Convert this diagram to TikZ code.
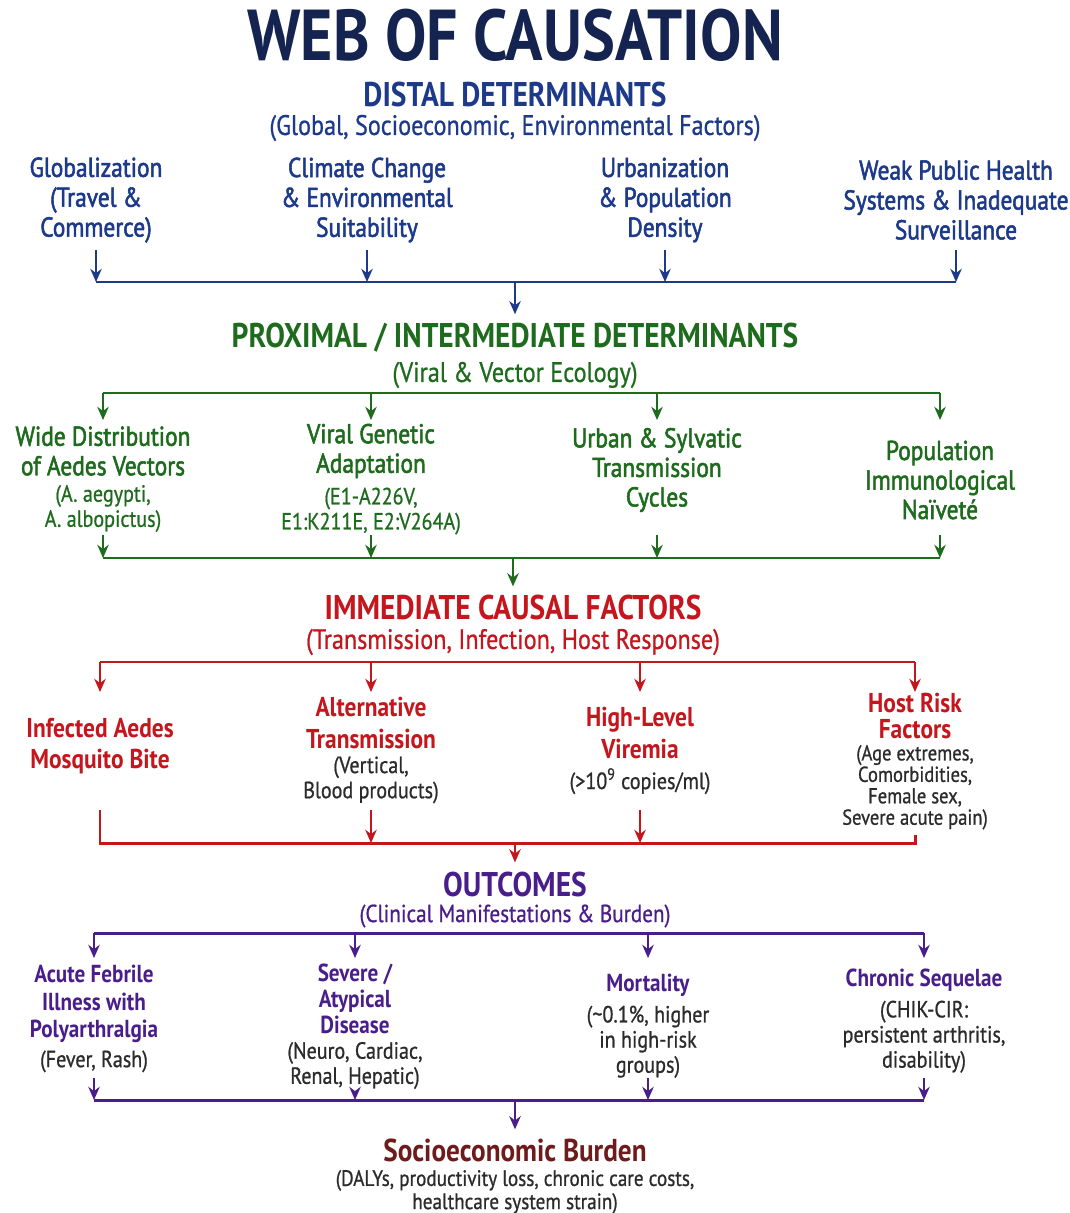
\documentclass[tikz,border=0pt]{standalone}
\usepackage{fontspec}
\setmainfont{PT Sans}[FakeStretch=0.86]
\newfontfamily\semib{PT Sans}[FakeStretch=0.86,FakeBold=2]
\newfontfamily\medi{PT Sans}[FakeStretch=0.86,FakeBold=0.8]
\usetikzlibrary{arrows.meta,positioning}
\definecolor{Navy}{HTML}{14234F}
\definecolor{Cobalt}{HTML}{1D3A8A}
\definecolor{Forest}{HTML}{1E6B1E}
\definecolor{Crimson}{HTML}{C4161C}
\definecolor{Violet}{HTML}{4A1E8A}
\definecolor{Maroon}{HTML}{6E1B1B}
\definecolor{Ink}{HTML}{2B2B2B}

\begin{document}
\begin{tikzpicture}[
        x=0.02cm, y=-0.02cm,
        every node/.style={inner sep=0pt, align=center},
        maintitle/.style={font=\fontsize{41}{44}\selectfont\bfseries, text=Navy},
        tier/.style={font=\fontsize{19.5}{22}\selectfont\bfseries},
        tiersub/.style={font=\fontsize{16}{18}\selectfont\medi},
        factor/.style={font=\fontsize{15.5}{17}\selectfont\semib},
        factorhead/.style={font=\fontsize{15.5}{16.8}\selectfont\semib},
        strong/.style={font=\fontsize{15.5}{18}\selectfont\bfseries},
        detail/.style={font=\fontsize{13.3}{14.3}\selectfont\medi},
        arrow/.style={-{Stealth[length=7.5pt,width=6.5pt]}, line width=1.3pt},
        bus/.style={line width=1.7pt}
    ]
        \useasboundingbox (0,0) rectangle (1070,1213);

        \node[maintitle] (title) at (515,35) {WEB OF CAUSATION};

        % distal level
        \node[tier, text=Cobalt] (distal) at (515,95) {DISTAL DETERMINANTS};
        \node[tiersub, text=Cobalt] (distal-sub) at (515,128) {(Global, Socioeconomic, Environmental Factors)};
        \node[factor, text=Cobalt] (d1) at (96,200) {Globalization\\(Travel \&\\Commerce)};
        \node[factor, text=Cobalt] (d2) at (367,200) {Climate Change\\\& Environmental\\Suitability};
        \node[factor, text=Cobalt] (d3) at (665,200) {Urbanization\\\& Population\\Density};
        \node[factor, text=Cobalt] (d4) at (956,200) {Weak Public Health\\Systems \& Inadequate\\Surveillance};

        % proximal level
        \node[tier, text=Forest] (prox) at (515,338) {PROXIMAL / INTERMEDIATE DETERMINANTS};
        \node[tiersub, text=Forest] (prox-sub) at (515,375) {(Viral \& Vector Ecology)};
        \node[factorhead, text=Forest] (g1) at (103,451) {Wide Distribution\\of Aedes Vectors};
        \node[detail, text=Forest, below=5pt of g1] (g1d) {(A. aegypti,\\A. albopictus)};
        \node[factorhead, text=Forest] (g2) at (371,451) {Viral Genetic\\Adaptation};
        \node[detail, text=Forest, below=5pt of g2] (g2d) {(E1-A226V,\\E1:K211E, E2:V264A)};
        \node[factorhead, text=Forest] (g3) at (657,470) {Urban \& Sylvatic\\Transmission\\Cycles};
        \node[factorhead, text=Forest] (g4) at (940,480) {Population\\Immunological\\Naïveté};

        % immediate causes
        \node[tier, text=Crimson] (imm) at (513,608) {IMMEDIATE CAUSAL FACTORS};
        \node[tiersub, text=Crimson] (imm-sub) at (513,642) {(Transmission, Infection, Host Response)};
        \node[strong, text=Crimson] (r1) at (100,746) {Infected Aedes\\Mosquito Bite};
        \node[strong, text=Crimson] (r2) at (371,723) {Alternative\\Transmission};
        \node[detail, text=Ink, below=4pt of r2] (r2d) {(Vertical,\\Blood products)};
        \node[strong, text=Crimson] (r3) at (640,733) {High-Level\\Viremia};
        \node[detail, text=Ink, below=5pt of r3] (r3d) {(>10\textsuperscript{9} copies/ml)};
        \node[strong, text=Crimson, font=\fontsize{15.5}{15}\selectfont\bfseries] (r4) at (915,716) {Host Risk\\Factors};
        \node[detail, text=Ink, below=3pt of r4, font=\fontsize{12.3}{12.2}\selectfont\medi] (r4d) {(Age extremes,\\Comorbidities,\\Female sex,\\Severe acute pain)};

        % outcomes
        \node[tier, text=Violet] (outc) at (515,884) {OUTCOMES};
        \node[tiersub, text=Violet, font=\fontsize{14}{16}\selectfont\medi] (outc-sub) at (515,916) {(Clinical Manifestations \& Burden)};
        \node[strong, text=Violet, font=\fontsize{14}{15.6}\selectfont\bfseries] (o1) at (94,1004) {Acute Febrile\\Illness with\\Polyarthralgia};
        \node[detail, text=Ink, below=4pt of o1] (o1d) {(Fever, Rash)};
        \node[strong, text=Violet, font=\fontsize{14}{15}\selectfont\bfseries] (o2) at (355,999) {Severe /\\Atypical\\Disease};
        \node[detail, text=Ink, below=4pt of o2] (o2d) {(Neuro, Cardiac,\\Renal, Hepatic)};
        \node[strong, text=Violet, font=\fontsize{14}{15}\selectfont\bfseries] (o3) at (648,985) {Mortality};
        \node[detail, text=Ink, below=5pt of o3] (o3d) {(\textasciitilde0.1\%, higher\\in high-risk\\groups)};
        \node[strong, text=Violet, font=\fontsize{14}{15}\selectfont\bfseries] (o4) at (924,980) {Chronic Sequelae};
        \node[detail, text=Ink, below=5pt of o4] (o4d) {(CHIK-CIR:\\persistent arthritis,\\disability)};

        \node[tier, text=Maroon, font=\fontsize{18}{20}\selectfont\bfseries] (burden) at (515,1150) {Socioeconomic Burden};
        \node[detail, text=Ink, font=\fontsize{12.7}{13.2}\selectfont\medi] (burden-sub) at (515,1192) {(DALYs, productivity loss, chronic care costs,\\healthcare system strain)};

        % bus heights
        \coordinate (d-out) at (0,250);
        \coordinate (d-bus) at (0,282);
        \coordinate (d-mid) at (515,282);
        \coordinate (g-top) at (0,393);
        \coordinate (g-in) at (0,420);
        \coordinate (g-out) at (0,535);
        \coordinate (g-bot) at (0,558);
        \coordinate (g-mid) at (513,558);
        \coordinate (r-top) at (0,662);
        \coordinate (r-in) at (0,692);
        \coordinate (r-out) at (0,810);
        \coordinate (r-bot) at (0,843);
        \coordinate (r-mid) at (515,843);
        \coordinate (o-top) at (0,933);
        \coordinate (o-in) at (0,958);
        \coordinate (o-out) at (0,1078);
        \coordinate (o-bot) at (0,1100);
        \coordinate (o-mid) at (515,1100);

        % distal -> proximal
        \draw[bus, Cobalt] (d1 |- d-bus) -- (d4 |- d-bus);
        \draw[arrow, Cobalt] (d1 |- d-out) -- (d1 |- d-bus);
        \draw[arrow, Cobalt] (d2 |- d-out) -- (d2 |- d-bus);
        \draw[arrow, Cobalt] (d3 |- d-out) -- (d3 |- d-bus);
        \draw[arrow, Cobalt] (d4 |- d-out) -- (d4 |- d-bus);
        \draw[arrow, Cobalt] (d-mid) -- ([yshift=5pt]prox.north);

        % proximal -> immediate
        \draw[bus, Forest] (g1 |- g-top) -- (g4 |- g-top);
        \draw[arrow, Forest] (g1 |- g-top) -- (g1 |- g-in);
        \draw[arrow, Forest] (g2 |- g-top) -- (g2 |- g-in);
        \draw[arrow, Forest] (g3 |- g-top) -- (g3 |- g-in);
        \draw[arrow, Forest] (g4 |- g-top) -- (g4 |- g-in);
        \draw[bus, Forest] (g1 |- g-bot) -- (g4 |- g-bot);
        \draw[arrow, Forest] (g1 |- g-out) -- (g1 |- g-bot);
        \draw[arrow, Forest] (g2 |- g-out) -- (g2 |- g-bot);
        \draw[arrow, Forest] (g3 |- g-out) -- (g3 |- g-bot);
        \draw[arrow, Forest] (g4 |- g-out) -- (g4 |- g-bot);
        \draw[arrow, Forest] (g-mid) -- ([yshift=5pt]imm.north);

        % immediate -> outcomes
        \draw[bus, Crimson] (r1 |- r-top) -- (r4 |- r-top);
        \draw[arrow, Crimson] (r1 |- r-top) -- (r1 |- r-in);
        \draw[arrow, Crimson] (r2 |- r-top) -- (r2 |- r-in);
        \draw[arrow, Crimson] (r3 |- r-top) -- (r3 |- r-in);
        \draw[arrow, Crimson] (r4 |- r-top) -- (r4 |- r-in);
        \draw[bus, Crimson] (r1 |- r-out) -- (r1 |- r-bot) -- (r4 |- r-bot) -- ([yshift=-3pt]r4d.south);
        \draw[arrow, Crimson] (r2 |- r-out) -- (r2 |- r-bot);
        \draw[arrow, Crimson] (r3 |- r-out) -- (r3 |- r-bot);
        \draw[arrow, Crimson] (r-mid) -- ([yshift=5pt]outc.north);

        % outcomes -> burden
        \draw[bus, Violet] (o1 |- o-top) -- (o4 |- o-top);
        \draw[arrow, Violet] (o1 |- o-top) -- (o1 |- o-in);
        \draw[arrow, Violet] (o2 |- o-top) -- (o2 |- o-in);
        \draw[arrow, Violet] (o3 |- o-top) -- (o3 |- o-in);
        \draw[arrow, Violet] (o4 |- o-top) -- (o4 |- o-in);
        \draw[bus, Violet] (o1 |- o-bot) -- (o4 |- o-bot);
        \draw[arrow, Violet] (o1 |- o-out) -- (o1 |- o-bot);
        \draw[arrow, Violet] ([yshift=-2pt]o2d.south) -- (o2 |- o-bot);
        \draw[arrow, Violet] (o3 |- o-out) -- (o3 |- o-bot);
        \draw[arrow, Violet] (o4 |- o-out) -- (o4 |- o-bot);
        \draw[arrow, Violet] (o-mid) -- ([yshift=5pt]burden.north);
    \end{tikzpicture}
\end{document}
